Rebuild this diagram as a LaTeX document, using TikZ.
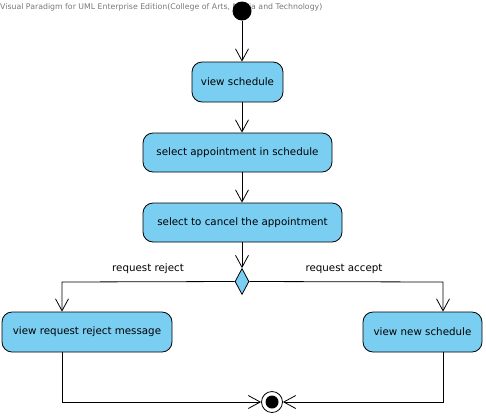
\documentclass[tikz,border=0pt]{standalone}
\usepackage{fontspec}
\setmainfont{DejaVu Sans}
\usetikzlibrary{arrows.meta,shapes.geometric}
\definecolor{actfill}{RGB}{122,206,242}
\definecolor{hdrgray}{RGB}{120,120,120}
\tikzset{
  action/.style={draw=black, fill=actfill, rounded corners=10pt, line width=0.8pt, minimum height=40pt, inner sep=0pt, font=\fontsize{10.3}{12}\selectfont},
  flow/.style={draw=black, line width=0.8pt, -{Straight Barb[length=12pt,width=13pt,line width=0.8pt]}},
  plainline/.style={draw=black, line width=0.8pt},
  lbl/.style={font=\fontsize{10.3}{12}\selectfont, inner sep=0pt}
}
\begin{document}
\begin{tikzpicture}[x=1pt,y=-1pt]
\useasboundingbox (0,0) rectangle (486,416);
\node[anchor=west, text=hdrgray, font=\fontsize{7.8}{9}\selectfont, inner sep=0pt] (hdr) at (0,7.5) {Visual Paradigm for UML Enterprise Edition(College of Arts, Media and Technology)};
\node[circle, fill=black, minimum size=19pt, inner sep=0pt] (init) at (242,11) {};
\node[action, minimum width=91pt] (vs) at (237.5,82) {view schedule};
\node[action, minimum width=189pt, minimum height=39pt] (sa) at (237.5,152.5) {select appointment in schedule};
\node[action, minimum width=199pt, minimum height=39pt] (sc) at (242.5,222.5) {select to cancel the appointment};
\node[diamond, draw=black, fill=actfill, line width=0.8pt, minimum width=14pt, minimum height=26pt, inner sep=0pt] (dec) at (242,281.5) {};
\node[action, minimum width=170pt] (rr) at (87,332) {view request reject message};
\node[action, minimum width=119pt] (ns) at (422.5,332) {view new schedule};
\node[circle, draw=black, line width=0.8pt, fill=white, minimum size=21pt, inner sep=0pt] (fin) at (272,402) {};
\node[circle, fill=black, minimum size=13pt, inner sep=0pt] (finin) at (272,402) {};
\node[lbl] (lrej) at (148,269) {request reject};
\node[lbl] (lacc) at (344,269) {request accept};
\draw[flow] (init) -- (init |- vs.north);
\draw[flow] (vs.south -| init) -- (sa.north -| init);
\draw[flow] (sa.south -| init) -- (sc.north -| init);
\draw[flow] (sc.south -| init) -- (dec.north);
\coordinate (lb) at (62,282);
\coordinate (rb) at (443,282);
\draw[flow] (dec.west) -- (lb) -- (lb |- rr.north);
\draw[flow] (dec.east) -- (rb) -- (rb |- ns.north);
\draw[flow] (lb |- rr.south) -- (lb |- fin) -- (fin.west);
\draw[flow] (rb |- ns.south) -- (rb |- fin) -- (fin.east);
\end{tikzpicture}
\end{document}
